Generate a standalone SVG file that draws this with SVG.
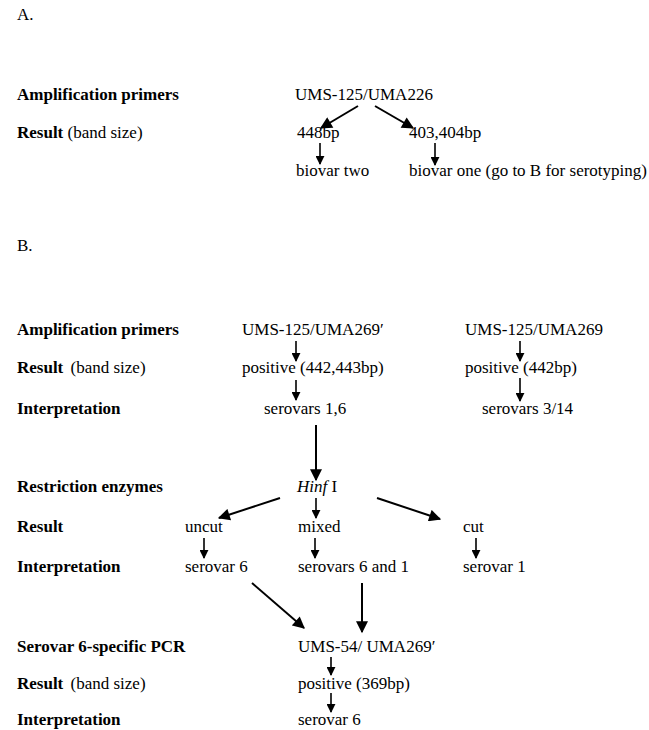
<svg xmlns="http://www.w3.org/2000/svg" width="649" height="730" viewBox="0 0 649 730">
<style>
text{font-family:"Liberation Serif","Times New Roman",serif;font-size:17px;fill:#000}
.b{font-weight:bold}
.n{font-weight:normal}
.c{stroke:#000;stroke-width:1.6;fill:none;marker-end:url(#ah)}
.cb{stroke:#000;stroke-width:2;fill:none;marker-end:url(#ahb)}
</style>
<defs>
<marker id="ah" viewBox="0 0 10 10" refX="9" refY="5" markerUnits="userSpaceOnUse" markerWidth="9" markerHeight="9" orient="auto"><path d="M0,0 L10,5 L0,10 z" fill="#000"/></marker>
<marker id="ahb" viewBox="0 0 10 10" refX="9" refY="5" markerUnits="userSpaceOnUse" markerWidth="13" markerHeight="12" orient="auto"><path d="M0,0 L10,5 L0,10 z" fill="#000"/></marker>
</defs>
<rect width="649" height="730" fill="#fff"/>
<g id="section-A">
<text x="17" y="20">A.</text>
<g id="a-label-primers"><text class="b" x="17" y="100">Amplification primers</text></g>
<g id="a-label-result"><text class="b" x="17" y="138">Result <tspan class="n">(band size)</tspan></text></g>
<g id="a-ums226"><text x="295" y="100">UMS-125/UMA226</text></g>
<g id="a-448"><text x="297" y="138">448bp</text></g>
<g id="a-403"><text x="409" y="138">403,404bp</text></g>
<g id="a-biovar2"><text x="296" y="176">biovar two</text></g>
<g id="a-biovar1"><text x="409" y="176">biovar one (go to B for serotyping)</text></g>
</g>
<g id="section-B">
<text x="17" y="251">B.</text>
<g id="b-label-primers"><text class="b" x="17" y="335">Amplification primers</text></g>
<g id="b-label-result"><text class="b" x="17" y="373">Result  <tspan class="n" dx="3">(band size)</tspan></text></g>
<g id="b-label-interp"><text class="b" x="17" y="414">Interpretation</text></g>
<g id="b-label-restr"><text class="b" x="17" y="492">Restriction enzymes</text></g>
<g id="b-label-result2"><text class="b" x="17" y="532">Result</text></g>
<g id="b-label-interp2"><text class="b" x="17" y="572">Interpretation</text></g>
<g id="b-label-pcr"><text class="b" x="17" y="652">Serovar 6-specific PCR</text></g>
<g id="b-label-result3"><text class="b" x="17" y="689">Result  <tspan class="n" dx="3">(band size)</tspan></text></g>
<g id="b-label-interp3"><text class="b" x="17" y="725">Interpretation</text></g>
<g id="b-ums269p"><text x="242" y="335">UMS-125/UMA269′</text></g>
<g id="b-ums269"><text x="465" y="335">UMS-125/UMA269</text></g>
<g id="b-pos443"><text x="242" y="373">positive (442,443bp)</text></g>
<g id="b-pos442"><text x="465" y="373">positive (442bp)</text></g>
<g id="b-sero16"><text x="264" y="414">serovars 1,6</text></g>
<g id="b-sero314"><text x="482" y="414">serovars 3/14</text></g>
<g id="b-hinf"><text x="297" y="492"><tspan font-style="italic">Hinf</tspan> I</text></g>
<g id="b-uncut"><text x="185" y="532">uncut</text></g>
<g id="b-mixed"><text x="298" y="532">mixed</text></g>
<g id="b-cut"><text x="463" y="532">cut</text></g>
<g id="b-sero6"><text x="185" y="572">serovar 6</text></g>
<g id="b-sero61"><text x="298" y="572">serovars 6 and 1</text></g>
<g id="b-sero1"><text x="463" y="572">serovar 1</text></g>
<g id="b-ums54"><text x="298" y="652">UMS-54/ UMA269′</text></g>
<g id="b-pos369"><text x="298" y="689">positive (369bp)</text></g>
<g id="b-sero6b"><text x="298" y="725">serovar 6</text></g>
</g>
<g id="connectors">
<line class="cb" x1="358" y1="106" x2="321" y2="128"/>
<line class="cb" x1="375" y1="106" x2="413" y2="128"/>
<line class="c" x1="320" y1="143" x2="320" y2="164"/>
<line class="c" x1="435" y1="143" x2="435" y2="165"/>
<line class="c" x1="296" y1="341" x2="296" y2="361"/>
<line class="c" x1="296" y1="380" x2="296" y2="400"/>
<line class="c" x1="520" y1="341" x2="520" y2="361"/>
<line class="c" x1="520" y1="378" x2="520" y2="401"/>
<line class="cb" x1="316" y1="425" x2="316" y2="480"/>
<line class="cb" x1="280" y1="498" x2="219" y2="518"/>
<line class="c" x1="316" y1="498" x2="316" y2="518"/>
<line class="cb" x1="377" y1="498" x2="440" y2="519"/>
<line class="c" x1="204" y1="538" x2="204" y2="558"/>
<line class="c" x1="315" y1="538" x2="315" y2="558"/>
<line class="c" x1="476" y1="538" x2="476" y2="558"/>
<line class="cb" x1="252" y1="583" x2="304" y2="628"/>
<line class="cb" x1="362" y1="583" x2="362" y2="632"/>
<line class="c" x1="331" y1="657" x2="331" y2="675"/>
<line class="c" x1="331" y1="693" x2="331" y2="712"/>
</g>
</svg>
